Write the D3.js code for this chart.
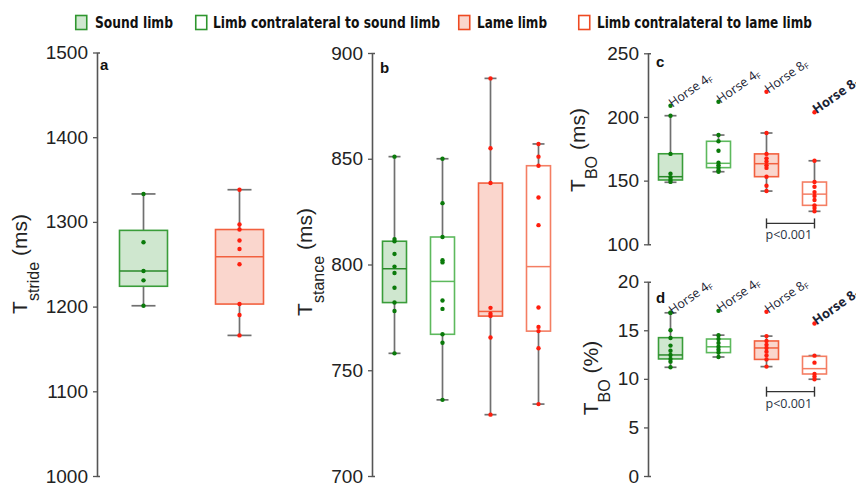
<!DOCTYPE html>
<html><head><meta charset="utf-8">
<script src="https://cdn.jsdelivr.net/npm/d3@7"></script>
<style>body{margin:0;background:#fff}</style>
</head><body><svg id="c" width="856" height="485"></svg>
<script>
// ---------- DATA ----------
const legendLabels = ["Sound limb","Limb contralateral to sound limb","Lame limb","Limb contralateral to lame limb"];
const groupKeys = ["sound","soundOpen","lame","lameOpen"];

// stats: [lower whisker, Q1, median, Q3, upper whisker]
const aGroups = [0, 2];
const aTicks = [1000,1100,1200,1300,1400,1500];
const aStats = [[1201,1224,1242,1290,1333],[1166,1203,1259,1291,1338]];
const aPoints = [[1333,1276,1242,1231,1201],[1338,1297,1291,1278,1268,1250,1203,1190,1166]];

const bGroups = [0,1,2,3];
const bTicks = [700,750,800,850,900];
const bStats = [[758,782,798,811,851],[736,767,792,813,850],[729,775.6,777.8,838.5,888],[734,768.5,799,846.7,857]];
const bPoints = [[851,812,811,805,799,796,789,782,778,758],[850,829,813,802,801,783,779,767,763,736],[888,855,838.5,779.5,776.7,775.7,765.5,729],[857,851,846.7,831.7,818.6,779.7,770.5,768.5,760.4,734]];

const cGroups = [0,1,2,3];
const cTicks = [100,150,200,250];
const cStats = [[148.7,150.5,153.1,171.1,201],[157,160.2,163.6,180.9,185.8],[141.8,153.1,163.3,171,187.4],[125.9,130.6,139.4,148.9,165.6]];
const cPoints = [[201,171,155.4,152.5,150.5,149],[185.8,180.9,173.5,164,162,160.2,158,157],[187.4,171,167.5,165,162,160,153.1,146,141.8],[165.6,148.9,145.2,141,138,134.8,130.6,128.5,125.9]];
const cOutliers = [208.8,212,219.8,203.7];

const dGroups = [0,1,2,3];
const dTicks = [0,5,10,15,20];
const dStats = [[11.19,12.05,12.46,14.24,16.8],[12.25,12.7,13.3,14.1,14.5],[11.26,12.0,13.18,13.9,14.4],[9.96,10.5,11.05,12.32,12.39]];
const dPoints = [[16.8,15.0,14.2,13.42,12.9,12.46,12.05,11.77,11.19],[14.5,14.1,13.7,13.3,13.0,12.7,12.25],[14.4,13.9,13.5,13.18,12.8,12.4,12.0,11.26],[12.39,11.67,10.5,10.23,9.96]];
const dOutliers = [16.8,17.0,16.9,15.7];

const outlierNames = ["Horse 4","Horse 4","Horse 8","Horse 8"];
const outlierSub = "F";
const pText = "p<0.001";
const cPBracket = 116.4;
const dPBracket = 8.68;

// ---------- STYLE ----------
const STY = {
  sound:     {stroke:'#3a9d3a', fill:'#cfe7cf', median:'#2a8a2a', dot:'#0a7a0a'},
  soundOpen: {stroke:'#5db95d', fill:'#ffffff', median:'#5db95d', dot:'#0a7a0a'},
  lame:      {stroke:'#f2603f', fill:'#fad6cd', median:'#f2603f', dot:'#ff1e0e'},
  lameOpen:  {stroke:'#f47e63', fill:'#ffffff', median:'#f47e63', dot:'#ff1e0e'}
};
const svg = d3.select('#c');
const tickFont = '"Liberation Sans", Arial, sans-serif';
const noteFont = '"Open Sans", "Noto Sans", sans-serif';

// ---------- LEGEND ----------
const legX = [75, 195, 458, 578];
const legTX = [95, 213, 477, 597];
const legTW = [78, 227, 70, 215];
const leg = svg.append('g');
legendLabels.forEach((lab, i) => {
  const s = STY[groupKeys[i]];
  leg.append('rect').attr('x', legX[i]+0.75).attr('y', 15.5).attr('width', 11).attr('height', 14)
    .attr('fill', s.fill).attr('stroke', i<2 ? '#2f962f' : '#ee4a22').attr('stroke-width', 1.6);
  leg.append('text').attr('x', legTX[i]).attr('y', 28).text(lab)
    .attr('font-family','"Liberation Sans Narrow","DejaVu Sans Condensed",sans-serif')
    .attr('font-weight','bold').attr('font-size',15).attr('fill','#111')
    .attr('textLength', legTW[i]).attr('lengthAdjust','spacingAndGlyphs');
});

// ---------- PANELS ----------
const panels = [
  {groups:aGroups, ticks:aTicks, stats:aStats, pts:aPoints, ax:97, top:52.5, bot:476, letter:'a', lx:100, ly:70,
   title:['T','stride',' (ms)'], tx:27, ty:264},
  {groups:bGroups, ticks:bTicks, stats:bStats, pts:bPoints, ax:372, top:53, bot:476, letter:'b', lx:380, ly:73,
   title:['T','stance',' (ms)'], tx:312, ty:262},
  {groups:cGroups, ticks:cTicks, stats:cStats, pts:cPoints, ax:648, top:53.3, bot:244.3, letter:'c', lx:656, ly:67,
   title:['T','BO',' (ms)'], tx:585, ty:150, outliers:cOutliers, p:cPBracket},
  {groups:dGroups, ticks:dTicks, stats:dStats, pts:dPoints, ax:648, top:281.7, bot:476, letter:'d', lx:656, ly:303,
   title:['T','BO',' (%)'], tx:598, ty:378, outliers:dOutliers, p:dPBracket}
];

panels.forEach(P => {
  const g = svg.append('g');
  const y = d3.scaleLinear().domain(d3.extent(P.ticks)).range([P.bot, P.top]);
  const x = d3.scaleBand().domain(d3.range(P.groups.length)).range([P.ax-1.5, P.ax+190.5])
    .paddingInner(0.5).paddingOuter(0.25);
  const bw = x.bandwidth();

  // axis
  const axis = d3.axisLeft(y).tickValues(P.ticks).tickFormat(d3.format('d'))
    .tickSizeInner(4).tickSizeOuter(-3).tickPadding(5);
  const ag = g.append('g').attr('transform', `translate(${P.ax},0)`).call(axis);
  ag.select('.domain').attr('stroke','#555').attr('stroke-width',1.6);
  ag.selectAll('.tick line').attr('stroke','#555').attr('stroke-width',1.3);
  ag.selectAll('.tick text').attr('font-family', tickFont).attr('font-size', 19).attr('fill','#222');

  // title
  const t = g.append('text').attr('transform', `translate(${P.tx},${P.ty}) rotate(-90)`)
    .attr('text-anchor','middle').attr('font-family', tickFont).attr('font-size', 21).attr('fill','#222');
  t.append('tspan').text(P.title[0]);
  t.append('tspan').text(P.title[1]).attr('font-size', 16).attr('dy', 12);
  t.append('tspan').text(P.title[2]).attr('dy', -12);

  // panel letter
  g.append('text').attr('x', P.lx).attr('y', P.ly).text(P.letter)
    .attr('font-family', tickFont).attr('font-weight','bold').attr('font-size', 15).attr('fill','#111');

  // boxes
  P.groups.forEach((gi, i) => {
    const s = STY[groupKeys[gi]];
    const [lo, q1, med, q3, hi] = P.stats[i];
    const x0 = x(i), cx = x0 + bw/2, cap = bw/4;
    const bg = g.append('g');
    bg.append('line').attr('x1',cx).attr('x2',cx).attr('y1',y(hi)).attr('y2',y(q3)).attr('stroke','#707070').attr('stroke-width',1.7);
    bg.append('line').attr('x1',cx).attr('x2',cx).attr('y1',y(q1)).attr('y2',y(lo)).attr('stroke','#707070').attr('stroke-width',1.7);
    [hi, lo].forEach(v => bg.append('line').attr('x1',cx-cap).attr('x2',cx+cap).attr('y1',y(v)).attr('y2',y(v))
      .attr('stroke','#707070').attr('stroke-width',1.7));
    bg.append('rect').attr('x', x0).attr('y', y(q3)).attr('width', bw).attr('height', y(q1)-y(q3))
      .attr('fill', s.fill).attr('stroke', s.stroke).attr('stroke-width', 1.6);
    bg.append('line').attr('x1',x0).attr('x2',x0+bw).attr('y1',y(med)).attr('y2',y(med))
      .attr('stroke', s.median).attr('stroke-width',1.5);
    bg.selectAll('circle').data(P.pts[i]).join('circle')
      .attr('cx', cx).attr('cy', d => y(d)).attr('r', 2.2).attr('fill', s.dot);

    if (P.outliers) {
      const oy = y(P.outliers[i]);
      bg.append('circle').attr('cx', cx).attr('cy', oy).attr('r', 2.2).attr('fill', s.dot);
      const bold = i === 3;
      const lt = bg.append('text').attr('transform', `translate(${cx+2},${oy+2}) rotate(-35)`)
        .attr('font-family', noteFont).attr('font-size', bold ? 13 : 12.5)
        .attr('font-weight', bold ? 'bold' : 'normal').attr('fill','#1a2334');
      lt.append('tspan').text(outlierNames[i]);
      lt.append('tspan').text(outlierSub).attr('font-size', 8).attr('dy', 2);
    }
  });

  // p bracket
  if (P.p !== undefined) {
    const xa = x(2) + bw/2, xb = x(3) + bw/2, py = y(P.p);
    const pg = g.append('g').attr('stroke','#333').attr('stroke-width',1.4);
    pg.append('line').attr('x1',xa).attr('x2',xb).attr('y1',py).attr('y2',py);
    pg.append('line').attr('x1',xa).attr('x2',xa).attr('y1',py-5).attr('y2',py+5);
    pg.append('line').attr('x1',xb).attr('x2',xb).attr('y1',py-5).attr('y2',py+5);
    g.append('text').attr('x', xa-1).attr('y', py+16).text(pText)
      .attr('font-family', noteFont).attr('font-size', 12.5).attr('fill','#2a3444');
  }
});
</script>
</body></html>
